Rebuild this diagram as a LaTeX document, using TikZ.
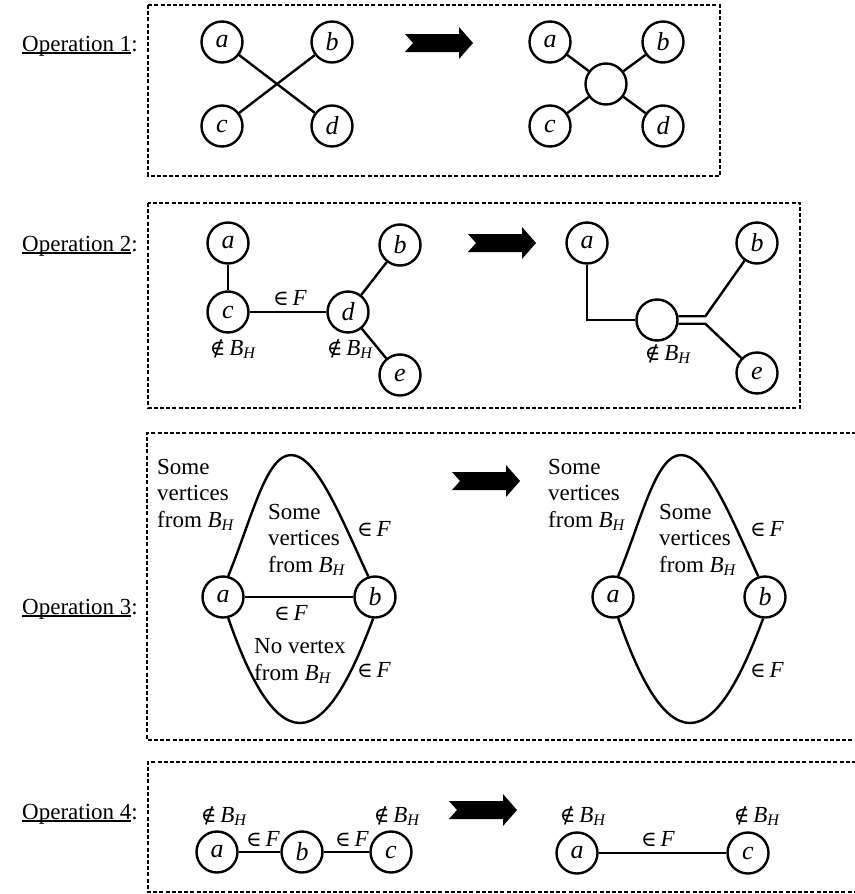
\documentclass[tikz,border=0pt]{standalone}
\usepackage{fontspec}
\setmainfont{Liberation Serif}
\newfontfamily\symf[Scale=0.92]{DejaVu Serif}
% operation title with an underline that sits just under the baseline
\newcommand{\opname}[1]{\setbox0\hbox{#1}\rlap{\rule[-2.6pt]{\wd0}{1.2pt}}\box0:}
\newcommand{\BH}{\textit{B}\textsubscript{\textit{H}}}
\newcommand{\inF}{{\symf ∈}\,\textit{F}}
\newcommand{\nBH}{{\symf ∉}\,\BH}
% thick black arrow with a notched tail, placed by its tail point
\newcommand{\fatarrow}[1]{\fill[shift={#1}] (0,-9) -- (54,-9) -- (54,-16) -- (68,0) -- (54,16) -- (54,9) -- (0,9) -- (8,0) -- cycle;}
\begin{document}
\begin{tikzpicture}[x=1pt,y=-1pt,
  vtx/.style={circle,draw,line width=2.4pt,minimum size=41pt,inner sep=0pt,font=\fontsize{26}{26}\selectfont\itshape},
  edge/.style={line width=2.4pt},
  frame/.style={line width=1.4pt,dash pattern=on 4pt off 2.2pt},
  oplbl/.style={anchor=base west,inner sep=0pt,font=\fontsize{23}{23}\selectfont},
  lbl/.style={inner sep=0pt,anchor=base,font=\fontsize{23}{26.5}\selectfont},
  blk/.style={lbl,align=left,anchor=base west}
]
\useasboundingbox (0,0) rectangle (854,894);

% ---------------- Operation 1 ----------------
\node[oplbl] (t1) at (22,51) {\opname{Operation 1}};
\draw[frame] (148,5) rectangle (720,176);
\node[vtx] (a1) at (222,42) {a};
\node[vtx] (b1) at (332,42) {b};
\node[vtx] (c1) at (222,126) {c};
\node[vtx] (d1) at (332,126) {d};
\draw[edge] (a1) -- (d1);
\draw[edge] (b1) -- (c1);
\fatarrow{(405,43)}
\node[vtx] (a1r) at (550,42) {a};
\node[vtx] (b1r) at (663,42) {b};
\node[vtx] (c1r) at (550,126) {c};
\node[vtx] (d1r) at (663,126) {d};
\node[vtx] (m1r) at (606,84) {};
\foreach \v in {a1r,b1r,c1r,d1r} \draw[edge] (m1r) -- (\v);

% ---------------- Operation 2 ----------------
\node[oplbl] (t2) at (22,251) {\opname{Operation 2}};
\draw[frame] (148,203) rectangle (800,408);
\node[vtx] (a2) at (228,243) {a};
\node[vtx] (c2) at (228,312) {c};
\node[vtx] (d2) at (348,312) {d};
\node[vtx] (b2) at (400,245) {b};
\node[vtx] (e2) at (400,375) {e};
\draw[edge] (a2) -- (c2);
\draw[edge] (c2) -- (d2);
\draw[edge] (d2) -- (b2);
\draw[edge] (d2) -- (e2);
\node[lbl] (f2) at (290,305) {\inF};
\node[lbl] (n2c) at (233,355) {\nBH};
\node[lbl] (n2d) at (350,355) {\nBH};
\fatarrow{(468,243)}
\node[vtx] (a2r) at (587,243) {a};
\node[vtx] (b2r) at (757,243) {b};
\node[vtx] (m2r) at (657,320) {};
\node[vtx] (e2r) at (757,373) {e};
\draw[edge] (a2r) |- (m2r);
\draw[edge] (m2r.10) -- ++(27,0) -- (b2r);
\draw[edge] (m2r.-10) -- ++(27,0) -- (e2r);
\node[lbl] (n2r) at (668,360) {\nBH};

% ---------------- Operation 3 ----------------
\node[oplbl] (t3) at (22,614) {\opname{Operation 3}};
\draw[frame] (856,433) -- (147,433) -- (147,740) -- (856,740);
\node[vtx] (a3) at (223,597) {a};
\node[vtx] (b3) at (375,597) {b};
\draw[edge] (a3) -- (b3);
\draw[edge] (a3.76) .. controls (252,518) and (266,455) .. (291,455)
                    .. controls (316,455) and (340,515) .. (b3.108);
\draw[edge] (a3.-76) .. controls (248,675) and (272,723) .. (300,723)
                     .. controls (328,723) and (352,675) .. (b3.-95);
% multi-line blocks are anchored on the baseline of their last line
\node[blk] (s3) at (157,527) {Some\\vertices\\from \BH};
\node[blk] (i3) at (268,572) {Some\\vertices\\from \BH};
\node[blk] (o3) at (254,680) {No vertex\\from \BH};
\node[lbl] (f3a) at (374,536) {\inF};
\node[lbl] (f3b) at (291,620) {\inF};
\node[lbl] (f3c) at (374,677) {\inF};
\fatarrow{(452,481)}
\node[vtx] (a3r) at (613,597) {a};
\node[vtx] (b3r) at (765,597) {b};
\draw[edge] (a3r.76) .. controls (642,518) and (656,455) .. (681,455)
                     .. controls (706,455) and (730,515) .. (b3r.108);
\draw[edge] (a3r.-76) .. controls (638,675) and (662,723) .. (690,723)
                      .. controls (718,723) and (742,675) .. (b3r.-95);
\node[blk] (s3r) at (548,527) {Some\\vertices\\from \BH};
\node[blk] (i3r) at (659,572) {Some\\vertices\\from \BH};
\node[lbl] (f3ra) at (767,536) {\inF};
\node[lbl] (f3rc) at (767,677) {\inF};

% ---------------- Operation 4 ----------------
\node[oplbl] (t4) at (22,819) {\opname{Operation 4}};
\draw[frame] (856,762) -- (148,762) -- (148,892) -- (856,892);
\node[vtx] (a4) at (217,852) {a};
\node[vtx] (b4) at (302,852) {b};
\node[vtx] (c4) at (391,852) {c};
\draw[edge] (a4) -- (b4);
\draw[edge] (b4) -- (c4);
\node[lbl] (f4a) at (263,846) {\inF};
\node[lbl] (f4b) at (352,846) {\inF};
\node[lbl] (n4a) at (224,822) {\nBH};
\node[lbl] (n4c) at (397,822) {\nBH};
\fatarrow{(449,810)}
\node[vtx] (a4r) at (577,853) {a};
\node[vtx] (c4r) at (748,853) {c};
\draw[edge] (a4r) -- (c4r);
\node[lbl] (f4r) at (658,846) {\inF};
\node[lbl] (n4ra) at (583,822) {\nBH};
\node[lbl] (n4rc) at (757,822) {\nBH};
\end{tikzpicture}
\end{document}
